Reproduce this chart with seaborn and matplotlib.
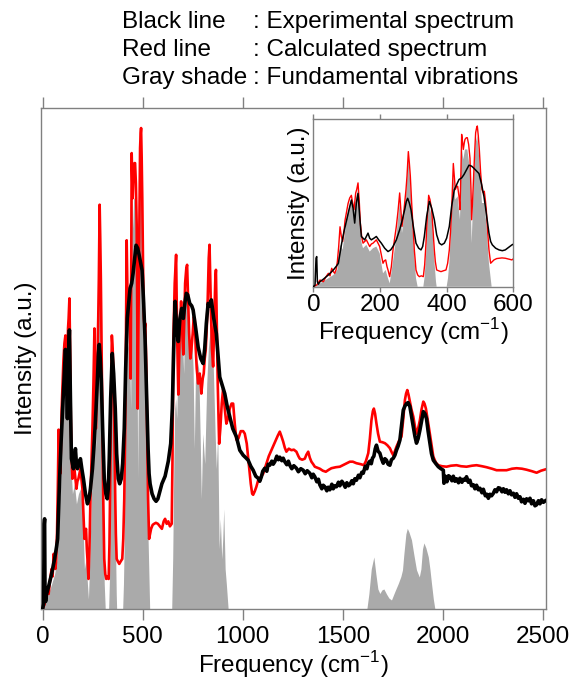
import numpy as np
import pandas as pd
import seaborn as sns
import matplotlib
matplotlib.use('Agg')
import matplotlib.pyplot as plt

sns.set_style('white')
plt.rcParams['font.family'] = ['Liberation Sans', 'DejaVu Sans']
plt.rcParams['mathtext.fontset'] = 'custom'
plt.rcParams['mathtext.rm'] = 'Liberation Sans'
plt.rcParams['text.color'] = 'black'
plt.rcParams['axes.labelcolor'] = 'black'
plt.rcParams['xtick.labelcolor'] = 'black'

# experimental spectrum (black)
exp_freq = [0, 5, 8, 10, 12, 15, 20, 30, 45, 60, 70, 75, 85, 92, 100, 107, 114, 119, 124, 129,
            134, 139, 144, 149, 154, 159, 164, 169, 174, 182, 189, 196, 204, 214, 224, 232, 239, 249,
            259, 267, 274, 279, 283, 288, 293, 300, 308, 316, 323, 328, 333, 340, 348, 355, 363, 370,
            378, 385, 393, 400, 408, 415, 423, 430, 437, 445, 452, 460, 467, 475, 482, 490, 497, 505,
            512, 520, 527, 532, 537, 547, 557, 567, 576, 586, 596,
            612, 628, 640, 648, 655, 662, 670, 678, 686, 695, 703, 712, 718, 725, 735, 745, 752, 765,
            777, 790, 802, 810, 818, 827, 835, 843, 855, 868, 878, 885, 895, 910, 922, 935, 950, 968,
            985, 1002, 1015, 1027, 1040, 1052, 1065, 1077, 1085, 1093, 1100, 1110, 1120, 1127, 1135,
            1145, 1152, 1160, 1170, 1178, 1185, 1195, 1202, 1210, 1220, 1228, 1235, 1245, 1255, 1268,
            1278, 1290, 1302, 1312, 1322, 1335, 1345, 1352, 1360, 1370, 1378, 1385, 1395, 1402, 1410,
            1420, 1427, 1435, 1445, 1452, 1460, 1468, 1478, 1485, 1495, 1502, 1512, 1520, 1528, 1535,
            1545, 1552, 1560, 1568, 1578, 1585, 1595, 1602, 1612, 1620, 1627, 1635, 1642, 1648, 1655,
            1662, 1668, 1676, 1685, 1693, 1702, 1710, 1718, 1726, 1735, 1743, 1752, 1760, 1768, 1776,
            1785, 1793, 1802, 1810, 1818, 1826, 1835, 1843, 1852, 1860, 1868, 1876, 1885, 1893, 1902,
            1910, 1918, 1926, 1935, 1943, 1952, 1965, 1977, 1990, 2002, 2005, 2012, 2020, 2028, 2035,
            2045, 2052, 2060, 2068, 2078, 2085, 2095, 2102, 2110, 2118, 2127, 2135, 2143, 2152, 2160,
            2168, 2177, 2185, 2195, 2202, 2212, 2220, 2227, 2235, 2243, 2252, 2260, 2268, 2277, 2285,
            2295, 2302, 2310, 2318, 2327, 2335, 2343, 2352, 2360, 2368, 2377, 2385, 2393, 2402, 2410,
            2418, 2427, 2435, 2443, 2452, 2460, 2468, 2477, 2485, 2493, 2502, 2515]
exp_int = [0, 1, 17, 18, 3, 1.5, 3, 4.5, 7, 10, 12.5, 14, 26, 33, 40, 46, 51.8, 47, 38, 50,
           55.7, 42, 30, 29, 28, 30, 32, 29, 28, 29, 30, 28, 26, 23, 21, 22, 24, 28,
           34, 40, 46, 51, 52.8, 50, 46, 36, 26, 23, 22, 24, 30, 42, 51, 47, 40, 31,
           26, 25, 26, 29, 36, 48, 58, 61, 64, 65, 67, 70, 72.6, 72, 70.7, 69, 67.6, 61,
           53.8, 42, 32, 27, 25, 23, 22, 21.5, 22, 23.5, 25,
           26.5, 29.5, 33, 40, 52, 61.4, 56, 53.4, 58, 60, 58, 61.4, 63, 62.7, 61, 60.5, 59.7, 56,
           52.3, 50, 49, 52, 57, 61, 60.5, 61.7, 58, 55, 50, 46.3, 45, 43, 40.5, 38.4, 36, 34.4,
           31.7, 30.7, 30.2, 29.7, 28.5, 27.7, 26.5, 26.1, 25.5, 26.4, 27.5, 28.1, 27.5, 28.9, 28.7,
           29.5, 28.9, 29.4, 30.5, 29.8, 30.3, 29.6, 30.1, 29.4, 28.8, 29.5, 28.7, 28.0, 28.6, 28.1,
           27.4, 28.0, 27.7, 27.0, 27.6, 27.1, 26.2, 26.9, 26.4, 25.4, 25.9, 24.8, 24.0, 24.7, 24.4,
           23.6, 24.3, 23.8, 24.9, 24.0, 24.6, 24.4, 25.3, 24.6, 25.5, 25.1, 24.3, 25.2, 24.6, 24.8,
           25.6, 25.0, 26.0, 25.7, 26.7, 26.2, 27.3, 27.1, 28.5, 28.0, 29.1, 29.5, 29.0, 30.1, 30.5,
           32.0, 32.7, 31.5, 31.1, 30.0, 29.1, 30.0, 29.7, 28.9, 28.7, 29.8, 30.1, 30.7, 31.7, 32.5,
           33.7, 36.5, 39.7, 40.5, 41, 41.2, 40.4, 38.5, 36.4, 34.5, 33.1, 34.0, 35.7, 37.5, 39.4,
           39.0, 38, 35.5, 33.1, 31.0, 29.7, 29.0, 28.4, 28.0, 27.7, 25.1, 26.5, 25.4, 26.6, 26.4,
           25.6, 26.5, 25.5, 26.0, 25.2, 26.1, 25.3, 25.9, 25.7, 26.4, 25.3, 25.7, 24.6, 24.8, 24.0,
           24.7, 23.8, 24.1, 23.2, 23.9, 22.6, 22.9, 22.1, 22.9, 22.6, 23.1, 23.8, 23.4, 24.2, 24.1,
           23.4, 24.0, 23.3, 23.8, 23.0, 23.6, 22.8, 23.1, 22.3, 23.0, 22.1, 22.4, 21.4, 21.9, 21.1,
           22.0, 21.6, 22.1, 21.0, 21.6, 20.6, 20.8, 21.6, 21.0, 21.8, 21.3, 21.7]

# calculated spectrum (red)
calc_freq = [0, 10, 20, 30, 38, 45, 50, 55, 60, 64, 68, 72, 76, 80, 84, 88, 92, 95, 100, 104,
             109, 114, 118, 122, 127, 130, 134, 138, 141, 145, 149, 154, 159, 164, 169, 174, 179,
             184, 189, 194, 199, 204, 209, 213, 217, 221, 224, 229, 234, 239, 244, 249, 254, 259,
             263, 266, 270, 274, 278, 281, 285, 288, 291, 295, 299, 303, 308, 313, 318, 324, 330,
             334, 338, 342, 346, 350, 355, 359, 363, 366, 370, 376, 383, 390, 398, 403, 408, 412,
             415, 418, 420, 423, 426, 430, 433, 437, 440, 443, 445, 448, 450, 453, 455, 459, 462,
             466, 470, 473, 475, 478, 481, 484, 487, 490, 492, 495, 498, 502, 506, 510, 513, 516,
             519, 523, 527, 530, 532, 537, 542, 550, 557, 566, 576, 586, 596,
             605, 612, 620, 628, 636, 645, 649, 653, 660, 667, 672, 678, 685, 692, 698, 703, 708,
             712, 718, 722, 727, 732, 738, 743, 750, 755, 760, 765, 770, 777, 785, 793, 800, 805,
             810, 815, 820, 825, 830, 834, 838, 842, 846, 852, 858, 863, 866, 870, 875, 879, 882,
             888, 895, 902, 910, 918, 926, 935, 944, 952, 960, 968, 978, 990, 1002, 1010, 1020, 1030,
             1040, 1047, 1052, 1060, 1068, 1077, 1085, 1093, 1102, 1110, 1118, 1130, 1143, 1155,
             1165, 1175, 1185, 1193, 1202, 1210, 1218, 1230, 1243, 1255, 1268, 1278, 1285, 1297,
             1310, 1318, 1327, 1335, 1343, 1352, 1360, 1372, 1385, 1400, 1415, 1430, 1443, 1465,
             1485, 1510, 1535, 1550, 1568, 1590, 1605, 1615, 1627, 1635, 1643, 1650, 1655, 1661,
             1668, 1676, 1685, 1697, 1710, 1722, 1735, 1745, 1752, 1760, 1768, 1780, 1793, 1802,
             1810, 1816, 1822, 1828, 1835, 1843, 1852, 1860, 1868, 1876, 1885, 1893, 1902, 1908,
             1915, 1923, 1932, 1942, 1952, 1965, 1977, 1995, 2018, 2040, 2068, 2090, 2118, 2145,
             2168, 2195, 2218, 2245, 2268, 2295, 2318, 2345, 2368, 2395, 2418, 2445, 2468, 2490, 2515]
calc_int = [0, 1, 4, 3, 6, 8, 6.5, 11, 9, 8, 10, 15, 24, 35.8, 30, 27, 33, 39.6, 45, 49.6,
            53, 54.6, 50, 46, 56, 58, 62, 50, 38, 30, 26, 27, 28, 26, 24, 25.5, 26,
            27, 28, 26, 24, 19, 14, 15.5, 16, 12, 10, 6, 12, 22, 29, 36, 45, 56,
            44, 36, 42, 50, 58, 66, 80.7, 74, 66, 50, 36, 22, 10, 7, 6, 6.5, 6,
            13, 26, 42, 54.6, 52, 46, 34, 22, 15, 10, 9.5, 9, 9.5, 10, 14, 22, 34,
            46, 62, 73.6, 66, 58, 60, 60, 54, 46, 70, 91, 86, 82, 86, 88, 89, 89,
            85, 76.7, 58, 40, 52, 66, 80, 92, 95, 96, 90, 82, 68, 58, 56, 57, 52,
            46, 33, 22, 17, 14, 15, 16, 16.8, 17, 17.2, 17, 16.5, 16,
            17.5, 18, 17, 17.5, 16.5, 17, 30, 53.4, 65, 70.7, 55, 42.8, 55, 61.4, 55, 50.8, 58,
            65, 68, 68.7, 62, 55, 50, 51.7, 55, 58.3, 58, 52, 48, 45, 47, 43, 46, 47,
            50, 51.7, 56, 62, 70, 72.7, 65, 58, 52, 48.4, 58, 66, 67.7, 58, 45, 38, 33,
            36, 41, 44, 40, 37, 38, 40, 41, 41, 37, 33.8, 34, 35.5, 35.5, 35, 33, 29,
            25, 23, 22.8, 23.5, 24.4, 25.7, 26.1, 26.5, 27, 28, 29, 30.5, 31.7, 32.8,
            33.7, 34.6, 35.4, 34.5, 33.4, 32.2, 31.4, 32.0, 31.7, 31.8, 31.4, 30.5, 30.0, 29.8,
            30.0, 30.8, 31.4, 30.2, 29.4, 28.9, 28.4, 28.2, 28.0, 27.6, 27.4, 27.8, 28.1, 28.3,
            28.4, 28.9, 29.4, 29.4, 29.1, 28.9, 28.7, 29.5, 31.1, 34, 37.7, 39.5, 40, 39,
            37, 35, 33.4, 33.3, 33.1, 32.7, 32.1, 31.2, 30.7, 31.5, 32.4, 33.5, 34.4, 38,
            41.7, 43, 43.7, 42.8, 41.4, 39.8, 38.4, 36.5, 35, 36, 37.7, 39.8, 41.4, 41,
            40, 38, 35.7, 33, 30.4, 29.2, 28.7, 28.5, 28.4, 28.6, 28.7, 28.5, 28.4, 28.6,
            28.7, 28.5, 28.3, 28.0, 27.7, 27.7, 27.7, 28.0, 28.1, 28.0, 27.8, 27.5, 27.2, 27.6, 27.9]

# fundamental vibrations (gray shade)
fund_freq = [0, 20, 45, 60, 72, 76, 80, 84, 88, 95, 104, 114, 118, 122, 127, 134, 138, 141, 145,
             149, 154, 159, 169, 179, 189, 199, 204, 209, 217, 224, 229, 234, 239, 249, 259, 263,
             266, 274, 281, 285, 291, 299, 304, 308, 313, 330, 334, 338, 346, 355, 363, 368, 370,
             400, 404, 408, 415, 420, 426, 433, 440, 445, 450, 455, 462, 470, 475, 481, 487, 492,
             498, 506, 513, 519, 527, 535,
             645, 650, 656, 660, 665, 670, 675, 680, 690, 700, 705, 710, 720, 730, 738, 745, 752,
             758, 763, 770, 780, 787, 793, 800, 810, 820, 828, 835, 845, 850, 855, 862, 868, 875,
             882, 888, 895, 900, 905, 912, 918, 927,
             1620, 1630, 1642, 1655, 1665, 1675, 1685, 1695, 1705, 1718, 1730, 1743, 1760, 1777,
             1790, 1798, 1805, 1815, 1822, 1830, 1843, 1855, 1868, 1882, 1890, 1898, 1905, 1915,
             1927, 1935, 1943, 1952, 1960, 2515]
fund_int = [0, 2, 5, 7, 10, 18, 25, 24, 22, 33, 45, 52, 47, 43, 52, 58, 45, 33, 26,
            23, 24, 25, 21, 23, 24, 20, 14, 8, 10, 5, 2, 8, 15, 30, 50, 40,
            32, 45, 62, 76, 62, 30, 15, 5, 0, 0, 6, 18, 50, 42, 16, 3, 0,
            0, 5, 14, 40, 66, 52, 54, 40, 84, 76, 82, 82, 70, 26, 60, 86, 90,
            76, 50, 50, 38, 14, 0,
            0, 10, 30, 40, 42, 38, 46, 50, 56, 52, 47, 60, 63, 58, 52, 55, 48,
            32, 45, 50, 48, 35, 22, 35, 29, 45, 52, 55, 58, 52, 45, 35, 28, 35,
            12, 18, 10, 14, 20, 8, 5, 0,
            0, 3, 8, 10.4, 7, 4, 3.1, 3.8, 4, 3, 2.2, 1.8, 3.5, 5.1,
            6.5, 7.8, 11, 15, 16.1, 15.4, 13.8, 10.8, 7.8, 6.4, 8, 12, 13.2, 12.2,
            10.4, 8, 5.1, 2, 0, 0]

exp_df = pd.DataFrame({'freq': exp_freq, 'intensity': exp_int})
calc_df = pd.DataFrame({'freq': calc_freq, 'intensity': calc_int})

gray = '#aaaaaa'
frame = '#808080'
fs = 17.5

fig = plt.figure(figsize=(5.74, 6.84), dpi=100)
ax = fig.add_axes([41/574, 1-609/684, 505/574, 501/684])
ins = fig.add_axes([312.7/574, 1-286.7/684, 200.6/574, 167.4/684])

for a, lw_e, lw_c in [(ax, 2.6, 1.9), (ins, 1.1, 1.0)]:
    a.fill_between(fund_freq, 0, fund_int, color=gray, linewidth=0, zorder=1)
    sns.lineplot(data=calc_df, x='freq', y='intensity', ax=a, color='#ff0000',
                 linewidth=lw_c, estimator=None, sort=False, zorder=2)
    sns.lineplot(data=exp_df, x='freq', y='intensity', ax=a, color='black',
                 linewidth=lw_e, estimator=None, sort=False, zorder=3)
    a.set_ylim(0, 100)
    a.set_yticks([])
    for s in a.spines.values():
        s.set_color(frame)
        s.set_linewidth(1.0)
    a.tick_params(axis='x', top=True, bottom=True, direction='out', color=frame,
                  labelsize=fs, width=1.0)

ax.set_xlim(-8, 2515)
ax.set_xticks([0, 500, 1000, 1500, 2000, 2500])
ax.tick_params(axis='x', length=8, pad=4)
ax.set_xlabel(r'Frequency (cm$^{\mathregular{-1}}$)', fontsize=fs, labelpad=1)
ax.set_ylabel('Intensity (a.u.)', fontsize=fs, labelpad=3)

ins.set_xlim(-2, 600)
ins.set_xticks([0, 200, 400, 600])
ins.tick_params(axis='x', length=3.5, pad=2)
ins.set_xlabel(r'Frequency (cm$^{\mathregular{-1}}$)', fontsize=fs, labelpad=0)
ins.set_ylabel('Intensity (a.u.)', fontsize=fs, labelpad=2)

# header notes
rows = [('Black line', ': Experimental spectrum'),
        ('Red line', ': Calculated spectrum'),
        ('Gray shade', ': Fundamental vibrations')]
for i, (k, v) in enumerate(rows):
    yb = 1 - (28 + 28*i)/684
    fig.text(122/574, yb, k, fontsize=fs, va='baseline')
    fig.text(253/574, yb, v, fontsize=fs, va='baseline')

fig.savefig('out.png', dpi=100)
